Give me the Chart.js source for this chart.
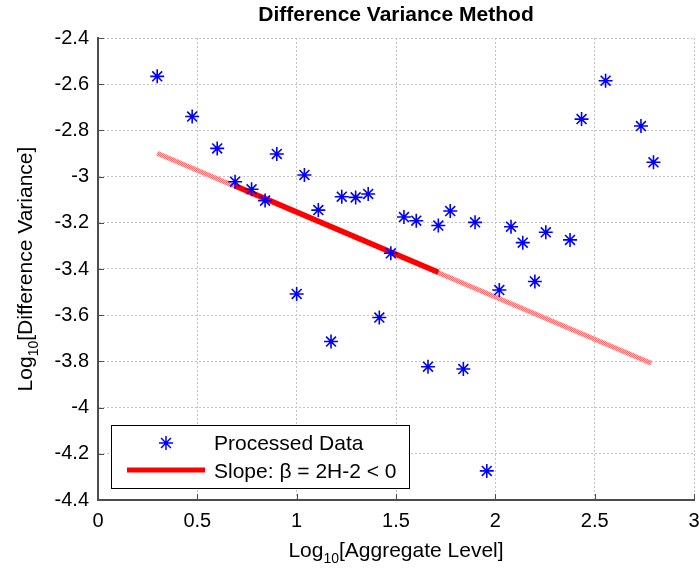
<!DOCTYPE html>
<html>
<head>
<meta charset="utf-8">
<script src="https://cdn.jsdelivr.net/npm/chart.js@4/dist/chart.umd.min.js"></script>
<style>
  html, body { margin: 0; padding: 0; background: #fff; }
  #diffChart { display: block; }
</style>
</head>
<body>
<canvas id="diffChart" width="699" height="569"></canvas>
<script>
// log10 of aggregate level (x) and log10 of difference variance (y)
const aggLevel = [0.298, 0.474, 0.600, 0.690, 0.773, 0.841, 0.900, 1.000, 1.039, 1.109,
  1.173, 1.227, 1.297, 1.360, 1.416, 1.474, 1.540, 1.602, 1.661, 1.713,
  1.773, 1.839, 1.898, 1.957, 2.020, 2.079, 2.138, 2.199, 2.254, 2.376,
  2.434, 2.555, 2.733, 2.796];
const diffVar = [-2.566, -2.740, -2.878, -3.022, -3.055, -3.104, -2.902, -3.508, -2.993, -3.145,
  -3.714, -3.087, -3.090, -3.075, -3.610, -3.332, -3.175, -3.191, -3.823, -3.212,
  -3.149, -3.833, -3.198, -4.274, -3.491, -3.217, -3.286, -3.454, -3.241, -3.274,
  -2.751, -2.585, -2.781, -2.938];

// fitted line: whole extent (hatched) and fitted range (solid)
const fitAllX = [0.298, 2.785];
const fitAllY = [-2.899, -3.808];
const fitX = [0.690, 1.713];
const fitY = [-3.040, -3.414];

const xTicks = [0, 0.5, 1, 1.5, 2, 2.5, 3];
const yTicks = [-2.4, -2.6, -2.8, -3, -3.2, -3.4, -3.6, -3.8, -4, -4.2, -4.4];

const titleText = 'Difference Variance Method';
const xTitle = '[Aggregate Level]';
const yTitle = '[Difference Variance]';
const legendLabels = ['Processed Data', 'Slope: \u03B2 = 2H-2 < 0'];

const FONT = '"Liberation Sans", Arial, sans-serif';

function toPoints(xs, ys) {
  return xs.map((x, i) => ({ x: x, y: ys[i] }));
}

// hatched fill for the extended fit line
function hatch() {
  const c = document.createElement('canvas');
  c.width = 2; c.height = 2;
  const g = c.getContext('2d');
  g.fillStyle = '#ffc4c4';
  g.fillRect(0, 0, 2, 2);
  g.fillStyle = '#ff6a6a';
  g.fillRect(0, 0, 1, 1);
  g.fillRect(1, 1, 1, 1);
  return g.createPattern(c, 'repeat');
}

// "Log" + subscript "10" + rest, centred on (0,0) of the current transform
function drawLogLabel(ctx, rest) {
  ctx.font = '21px ' + FONT;
  const w1 = ctx.measureText('Log').width;
  const w3 = ctx.measureText(rest).width;
  ctx.font = '14px ' + FONT;
  const w2 = ctx.measureText('10').width;
  const total = w1 + w2 + w3;
  let x = -total / 2;
  ctx.textAlign = 'left';
  ctx.textBaseline = 'alphabetic';
  ctx.fillStyle = '#000';
  ctx.font = '21px ' + FONT;
  ctx.fillText('Log', x, 0);
  x += w1;
  ctx.font = '14px ' + FONT;
  ctx.fillText('10', x, 6);
  x += w2;
  ctx.font = '21px ' + FONT;
  ctx.fillText(rest, x, 0);
}

const decorations = {
  id: 'decorations',
  afterDraw(chart) {
    const ctx = chart.ctx;
    const a = chart.chartArea;
    const xs = chart.scales.x, ys = chart.scales.y;
    ctx.save();

    // inward tick marks
    ctx.strokeStyle = '#4d4d4d';
    ctx.lineWidth = 1;
    ctx.beginPath();
    yTicks.forEach(v => {
      const py = Math.round(ys.getPixelForValue(v)) + 0.5;
      ctx.moveTo(a.left, py); ctx.lineTo(a.left + 6, py);
    });
    xTicks.forEach(v => {
      const px = Math.round(xs.getPixelForValue(v)) + 0.5;
      ctx.moveTo(px, a.bottom); ctx.lineTo(px, a.bottom - 6);
    });
    ctx.stroke();

    // title
    ctx.fillStyle = '#000';
    ctx.font = 'bold 21px ' + FONT;
    ctx.textAlign = 'center';
    ctx.textBaseline = 'alphabetic';
    ctx.fillText(titleText, (a.left + a.right) / 2, 21);

    // axis titles
    ctx.save();
    ctx.translate((a.left + a.right) / 2, 557);
    drawLogLabel(ctx, xTitle);
    ctx.restore();

    ctx.save();
    ctx.translate(32, (a.top + a.bottom) / 2);
    ctx.rotate(-Math.PI / 2);
    drawLogLabel(ctx, yTitle);
    ctx.restore();

    // legend box
    const lx = 111, ly = 425, lw = 298, lh = 63;
    ctx.fillStyle = '#fff';
    ctx.fillRect(lx, ly, lw, lh);
    ctx.strokeStyle = '#000';
    ctx.lineWidth = 1;
    ctx.strokeRect(lx + 0.5, ly + 0.5, lw, lh);

    // star marker
    const sx = 166, sy = 443, r = 7;
    ctx.strokeStyle = '#0000ff';
    ctx.lineWidth = 1.5;
    ctx.beginPath();
    ctx.moveTo(sx - r, sy); ctx.lineTo(sx + r, sy);
    ctx.moveTo(sx, sy - r); ctx.lineTo(sx, sy + r);
    const d = r * Math.SQRT1_2;
    ctx.moveTo(sx - d, sy - d); ctx.lineTo(sx + d, sy + d);
    ctx.moveTo(sx - d, sy + d); ctx.lineTo(sx + d, sy - d);
    ctx.stroke();

    // red line sample
    ctx.strokeStyle = '#ff0000';
    ctx.lineWidth = 5;
    ctx.beginPath();
    ctx.moveTo(127, 470); ctx.lineTo(205, 470);
    ctx.stroke();

    ctx.fillStyle = '#000';
    ctx.font = '21px ' + FONT;
    ctx.textAlign = 'left';
    ctx.textBaseline = 'alphabetic';
    ctx.fillText(legendLabels[0], 214, 450);
    ctx.fillText(legendLabels[1], 214, 478);

    ctx.restore();
  }
};

const ctx = document.getElementById('diffChart').getContext('2d');

new Chart(ctx, {
  type: 'scatter',
  data: {
    datasets: [
      {
        label: legendLabels[0],
        data: toPoints(aggLevel, diffVar),
        pointStyle: 'star',
        pointRadius: 7,
        pointHoverRadius: 7,
        borderColor: '#0000ff',
        backgroundColor: '#0000ff',
        pointBorderWidth: 1.6,
        showLine: false
      },
      {
        label: legendLabels[1],
        data: toPoints(fitX, fitY),
        showLine: true,
        borderColor: '#ff0000',
        borderWidth: 5.5,
        borderCapStyle: 'butt',
        pointRadius: 0
      },
      {
        label: 'extended fit',
        data: toPoints(fitAllX, fitAllY),
        showLine: true,
        borderColor: hatch(),
        borderWidth: 5,
        borderCapStyle: 'butt',
        pointRadius: 0
      }
    ]
  },
  options: {
    responsive: false,
    animation: false,
    devicePixelRatio: 1,
    layout: { autoPadding: false, padding: { top: 38, right: 5, left: 0, bottom: 0 } },
    plugins: {
      legend: { display: false },
      title: { display: false },
      tooltip: { enabled: false }
    },
    scales: {
      x: {
        type: 'linear',
        min: 0,
        max: 3,
        afterFit(scale) {
          scale.height = 69;
          scale.paddingLeft = 0;
          scale.paddingRight = 0;
        },
        afterBuildTicks(scale) { scale.ticks = xTicks.map(v => ({ value: v })); },
        ticks: {
          padding: 9,
          color: '#000',
          font: { size: 20, family: FONT },
          maxRotation: 0,
          callback: v => String(+v.toFixed(1))
        },
        grid: { color: '#c4c4c4', lineWidth: 1, drawTicks: false },
        border: { display: true, color: '#4d4d4d', width: 2, dash: [2, 2] }
      },
      y: {
        type: 'linear',
        min: -4.4,
        max: -2.4,
        afterFit(scale) {
          scale.width = 98;
          scale.paddingTop = 0;
          scale.paddingBottom = 0;
        },
        afterBuildTicks(scale) { scale.ticks = yTicks.map(v => ({ value: v })); },
        ticks: {
          padding: 9,
          color: '#000',
          font: { size: 20, family: FONT },
          callback: v => String(+v.toFixed(1))
        },
        grid: { color: '#c4c4c4', lineWidth: 1, drawTicks: false },
        border: { display: true, color: '#4d4d4d', width: 2, dash: [2, 2] }
      }
    }
  },
  plugins: [decorations]
});
</script>
</body>
</html>
